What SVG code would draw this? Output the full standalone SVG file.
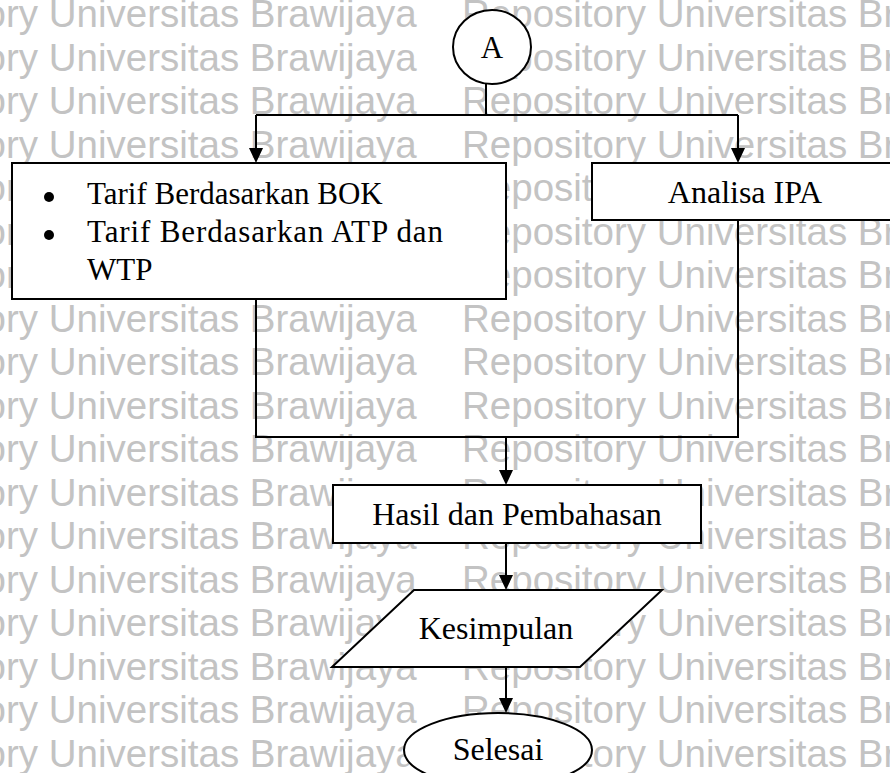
<svg xmlns="http://www.w3.org/2000/svg" width="890" height="773" viewBox="0 0 890 773">
  <style>
    .wm { font-family: "Liberation Sans", Arial, sans-serif; font-size: 38.5px; fill: #c3c3c3; }
    .box { fill: #ffffff; stroke: #000000; stroke-width: 2; }
    .lbl { font-family: "Liberation Serif", "Times New Roman", serif; font-size: 32px; fill: #000000; }
    .sm { font-size: 31px; }
    .mid { text-anchor: middle; }
    .wire { fill: none; stroke: #000000; stroke-width: 2; }
  </style>
  <defs>
    <marker id="arrow" viewBox="0 -8 16 16" markerWidth="16" markerHeight="16" refX="7" refY="0" orient="auto" markerUnits="userSpaceOnUse">
      <path d="M0,-7 L15,0 L0,7 Z" fill="#000000"/>
    </marker>
    <g id="wmRow">
      <text class="wm" x="-146">Repository Universitas Brawijaya</text>
      <text class="wm" x="462">Repository Universitas Brawijaya</text>
    </g>
  </defs>

  <rect x="0" y="0" width="890" height="773" fill="#ffffff"/>

  <!-- background repository stamp -->
  <g id="watermark">
    <use href="#wmRow" y="27"/>
    <use href="#wmRow" y="70.5"/>
    <use href="#wmRow" y="114"/>
    <use href="#wmRow" y="157.5"/>
    <use href="#wmRow" y="201"/>
    <use href="#wmRow" y="244.5"/>
    <use href="#wmRow" y="288"/>
    <use href="#wmRow" y="331.5"/>
    <use href="#wmRow" y="375"/>
    <use href="#wmRow" y="418.5"/>
    <use href="#wmRow" y="462"/>
    <use href="#wmRow" y="505.5"/>
    <use href="#wmRow" y="549"/>
    <use href="#wmRow" y="592.5"/>
    <use href="#wmRow" y="636"/>
    <use href="#wmRow" y="679.5"/>
    <use href="#wmRow" y="723"/>
    <use href="#wmRow" y="766.5"/>
  </g>

  <!-- flow lines -->
  <g id="connectors">
    <path class="wire" d="M486,84 V115"/>
    <path class="wire" d="M256,115 H738"/>
    <path class="wire" d="M256,115 V155" marker-end="url(#arrow)"/>
    <path class="wire" d="M738,115 V155" marker-end="url(#arrow)"/>
    <path class="wire" d="M256,299 V437 H738 V220"/>
    <path class="wire" d="M506,437 V477" marker-end="url(#arrow)"/>
    <path class="wire" d="M506,543 V582" marker-end="url(#arrow)"/>
    <path class="wire" d="M506,667 V705" marker-end="url(#arrow)"/>
  </g>

  <g id="node-a">
    <ellipse class="box" cx="492" cy="47" rx="39" ry="37"/>
    <text class="lbl sm mid" x="492" y="58">A</text>
  </g>

  <g id="node-tarif">
    <rect class="box" x="12" y="163" width="494" height="136"/>
    <circle cx="49" cy="197" r="5"/>
    <circle cx="49" cy="235" r="5"/>
    <text class="lbl sm" x="87" y="204">Tarif Berdasarkan BOK</text>
    <text class="lbl sm" x="87" y="242" textLength="356" lengthAdjust="spacing">Tarif Berdasarkan ATP dan</text>
    <text class="lbl sm" x="87" y="280">WTP</text>
  </g>

  <g id="node-ipa">
    <rect class="box" x="592" y="163" width="310" height="57"/>
    <text class="lbl mid" x="745" y="203">Analisa IPA</text>
  </g>

  <g id="node-hasil">
    <rect class="box" x="333" y="485" width="368" height="58"/>
    <text class="lbl mid" x="517" y="525">Hasil dan Pembahasan</text>
  </g>

  <g id="node-kesimpulan">
    <polygon class="box" points="414,590 662,590 580,667 332,667"/>
    <text class="lbl mid" x="496" y="639">Kesimpulan</text>
  </g>

  <g id="node-selesai">
    <ellipse class="box" cx="498" cy="750" rx="94" ry="37"/>
    <text class="lbl mid" x="498" y="760">Selesai</text>
  </g>
</svg>
